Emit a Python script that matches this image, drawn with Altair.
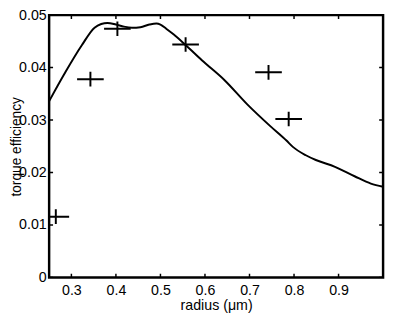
import altair as alt
import pandas as pd

# Data
curve_x = [0.25, 0.287, 0.323, 0.352, 0.367, 0.381, 0.40, 0.418, 0.436, 0.455, 0.475,
           0.491, 0.50, 0.513, 0.530, 0.5565, 0.593, 0.644, 0.695, 0.746, 0.783,
           0.7974, 0.8265, 0.849, 0.892, 0.936, 0.9726, 1.0]
curve_y = [0.0336, 0.0392, 0.0442, 0.0476, 0.0483, 0.0485, 0.0482, 0.0478, 0.0476, 0.0477, 0.0482,
           0.0484, 0.0482, 0.0474, 0.0463, 0.0443, 0.0414, 0.0376, 0.0330, 0.0289, 0.0261,
           0.0249, 0.0233, 0.0224, 0.0211, 0.0193, 0.0179, 0.0173]

pts_x = [0.265, 0.3427, 0.4033, 0.5565, 0.7427, 0.788]
pts_y = [0.0116, 0.0378, 0.0474, 0.0444, 0.0391, 0.0302]

x_ticks = [0.3, 0.4, 0.5, 0.6, 0.7, 0.8, 0.9]
y_ticks = [0.0, 0.01, 0.02, 0.03, 0.04, 0.05]

X_DOM = [0.25, 1.0]
Y_DOM = [0.0, 0.05]

FONT = "Liberation Sans"

curve_df = pd.DataFrame({"x": curve_x, "y": curve_y})
pts_df = pd.DataFrame({"x": pts_x, "y": pts_y})
xt_df = pd.DataFrame({"x": x_ticks * 2, "y": [Y_DOM[0]] * len(x_ticks) + [Y_DOM[1]] * len(x_ticks)})
yt_df = pd.DataFrame({"y": y_ticks * 2, "x": [X_DOM[0]] * len(y_ticks) + [X_DOM[1]] * len(y_ticks)})

xscale = alt.Scale(domain=X_DOM, nice=False, zero=False)
yscale = alt.Scale(domain=Y_DOM, nice=False, zero=False)

xaxis = alt.Axis(values=x_ticks, format=".1f", ticks=False, domain=False, grid=False,
                 labelFont=FONT, labelFontSize=14.5, labelColor="black", labelPadding=6,
                 title="radius (\u03bcm)", titleFont=FONT, titleFontSize=14.5,
                 titleFontWeight="normal", titleColor="black", titlePadding=2)
yaxis = alt.Axis(values=y_ticks, ticks=False, domain=False, grid=False,
                 labelExpr="datum.value == 0 ? '0' : format(datum.value, '.2f')",
                 labelFont=FONT, labelFontSize=14.5, labelColor="black", labelPadding=3,
                 title="torque efficiency", titleFont=FONT, titleFontSize=14,
                 titleFontWeight="normal", titleColor="black",
                 titleX=-33, titleY=134, titleAngle=270, titleBaseline="middle", titleAlign="center")

line = alt.Chart(curve_df).mark_line(color="black", strokeWidth=2, interpolate="monotone", clip=True).encode(
    x=alt.X("x:Q", scale=xscale, axis=xaxis),
    y=alt.Y("y:Q", scale=yscale, axis=yaxis),
)

plus_shape = "M-1,0L1,0M0,-0.55L0,0.55"
points = alt.Chart(pts_df).mark_point(shape=plus_shape, size=740, filled=False, color="black",
                                      strokeWidth=2, opacity=1, clip=True).encode(
    x=alt.X("x:Q", scale=xscale),
    y=alt.Y("y:Q", scale=yscale),
)

xticks = alt.Chart(xt_df).mark_tick(orient="vertical", size=8, thickness=1.5, color="black",
                                    opacity=1, clip=True).encode(
    x=alt.X("x:Q", scale=xscale),
    y=alt.Y("y:Q", scale=yscale),
)
yticks = alt.Chart(yt_df).mark_tick(orient="horizontal", size=8, thickness=1.5, color="black",
                                    opacity=1, clip=True).encode(
    x=alt.X("x:Q", scale=xscale),
    y=alt.Y("y:Q", scale=yscale),
)

chart = alt.layer(line, points, xticks, yticks).properties(
    width=341, height=268,
    background="white",
    autosize=alt.AutoSizeParams(type="none"),
    padding={"left": 42, "top": 4, "right": 4, "bottom": 37},
).configure_view(stroke="black", strokeWidth=2.5)

chart.save("out.html", embed_options={"renderer": "svg", "actions": False})
